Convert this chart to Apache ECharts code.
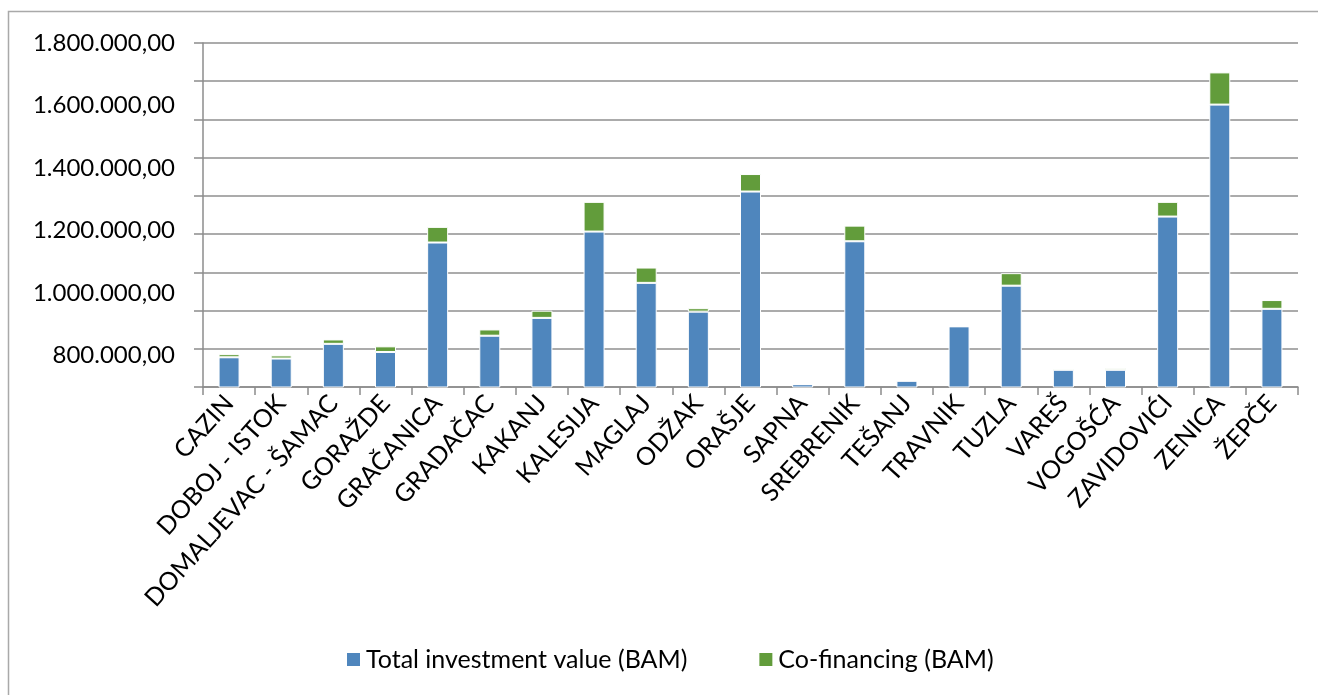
<!DOCTYPE html>
<html>
<head>
<meta charset="utf-8">
<title>Investment by municipality</title>
<script src="https://cdn.jsdelivr.net/npm/echarts@6/dist/echarts.min.js"></script>
<style>
    html, body {margin:0;padding:0;background:#fff;}
    #chart {width:1318px;height:695px;}
</style>
</head>
<body>
<div id="chart"></div>
<script>
    // municipalities on the x axis
    var categories = ['CAZIN', 'DOBOJ - ISTOK', 'DOMALJEVAC - ŠAMAC', 'GORAŽDE', 'GRAČANICA', 'GRADAČAC', 'KAKANJ',
        'KALESIJA', 'MAGLAJ', 'ODŽAK', 'ORAŠJE', 'SAPNA', 'SREBRENIK', 'TEŠANJ', 'TRAVNIK', 'TUZLA', 'VAREŠ',
        'VOGOŠĆA', 'ZAVIDOVIĆI', 'ZENICA', 'ŽEPČE'];

    // values (BAM)
    var totalInvestment = [795000, 791000, 838000, 812000, 1162000, 864000, 921000,
        1197000, 1033000, 941000, 1325000, 709000, 1166000, 720000, 894000, 1024000, 755000,
        755000, 1245000, 1603000, 950000];
    var coFinancing = [10000, 10000, 14000, 18000, 50000, 20000, 23000,
        95000, 49000, 11000, 56000, 0, 50000, 0, 0, 40000, 4000,
        6000, 47000, 103000, 28000];

    var yTicks = [800000, 1000000, 1200000, 1400000, 1600000, 1800000];

    // 1.800.000,00 style
    function fmt(v) {
        var s = String(Math.round(v));
        var out = '';
        while (s.length > 3) {
            out = '.' + s.slice(-3) + out;
            s = s.slice(0, -3);
        }
        return s + out + ',00';
    }

    var chart = echarts.init(document.getElementById('chart'));
    var font = 'Lato, "Open Sans", sans-serif';

    var option = {
        animation: false,
        textStyle: {fontFamily: font},
        graphic: [{
            type: 'rect',
            shape: {x: 8.5, y: 11.5, width: 1400, height: 800},
            style: {fill: 'none', stroke: '#a9a9a9', lineWidth: 1.5},
            silent: true
        }],
        grid: {left: 203, right: 20, top: 43, bottom: 308, containLabel: false},
        legend: {
            left: 345,
            top: 647,
            padding: 0,
            icon: 'rect',
            itemWidth: 15,
            itemHeight: 15,
            itemGap: 70,
            textStyle: {fontSize: 25, color: '#000', fontFamily: font},
            data: ['Total investment value (BAM)', 'Co-financing (BAM)']
        },
        xAxis: {
            type: 'category',
            data: categories,
            boundaryGap: true,
            axisLine: {lineStyle: {color: '#8c8c8c', width: 1.5}},
            axisTick: {show: true, length: 8, alignWithLabel: false, lineStyle: {color: '#8c8c8c', width: 1.5}},
            axisLabel: {
                interval: 0,
                rotate: 48,
                margin: 12,
                fontSize: 25,
                color: '#000',
                fontFamily: font
            }
        },
        yAxis: [
            {
                // value axis with the printed labels
                type: 'value',
                min: 700000,
                max: 1800000,
                position: 'left',
                axisLine: {show: true, lineStyle: {color: '#8c8c8c', width: 1.5}},
                axisTick: {show: false},
                splitLine: {show: false},
                axisLabel: {
                    customValues: yTicks,
                    margin: 28,
                    fontSize: 24,
                    color: '#000',
                    fontFamily: font,
                    formatter: function (v) { return fmt(v); }
                }
            },
            {
                // grid lines only
                type: 'value',
                min: 0,
                max: 9,
                interval: 1,
                position: 'left',
                axisLine: {show: false},
                axisLabel: {show: false},
                axisTick: {show: true, length: 9, lineStyle: {color: '#8c8c8c', width: 1.5}},
                splitLine: {show: true, lineStyle: {color: '#8f8f8f', width: 1.5}}
            }
        ],
        series: [
            {
                name: 'Total investment value (BAM)',
                type: 'bar',
                stack: 'total',
                yAxisIndex: 0,
                barWidth: 21,
                itemStyle: {color: '#4f86bd', borderColor: '#ffffff', borderWidth: 1},
                data: totalInvestment
            },
            {
                name: 'Co-financing (BAM)',
                type: 'bar',
                stack: 'total',
                yAxisIndex: 0,
                barWidth: 21,
                itemStyle: {color: '#629c3b', borderColor: '#ffffff', borderWidth: 1},
                data: coFinancing
            }
        ]
    };

    chart.setOption(option);
</script>
</body>
</html>
